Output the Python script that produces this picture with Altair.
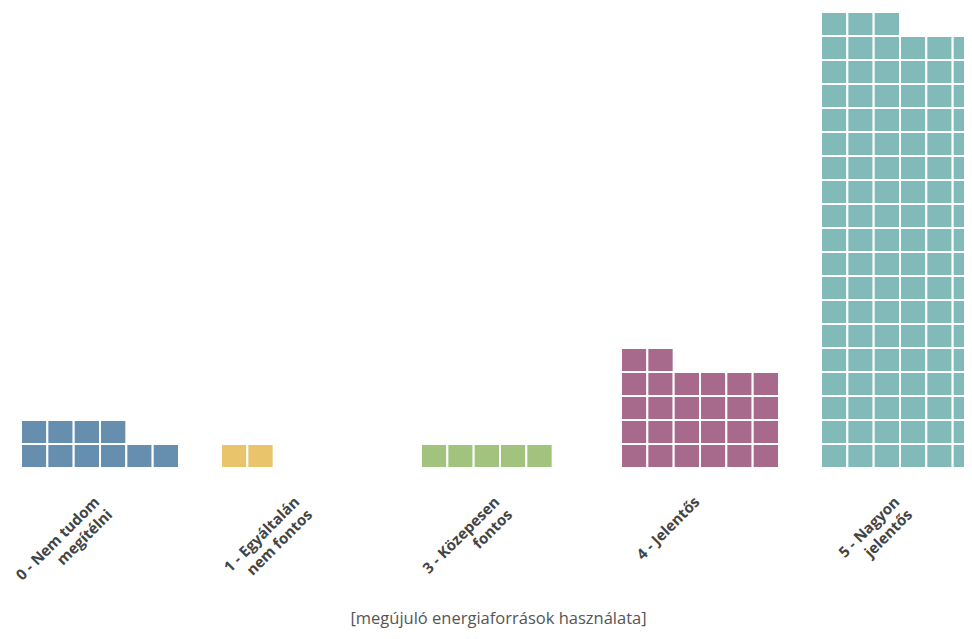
import altair as alt
import pandas as pd

categories = ["0 - Nem tudom\nmegítélni", "1 - Egyáltalán\nnem fontos", "3 - Közepesen\nfontos",
              "4 - Jelentős", "5 - Nagyon\njelentős"]
counts = [10, 2, 5, 26, 111]
colors = ["#668FAF", "#EAC46A", "#A1C37E", "#A76A8D", "#81BAB8"]
units_per_row = 6
axis_title = "[megújuló energiaforrások használata]"

rows = []
for cat, n in zip(categories, counts):
    for i in range(n):
        rows.append({"cat": cat, "row": i // units_per_row, "col": i % units_per_row})
df = pd.DataFrame(rows)

chart = alt.Chart(df).mark_rect(stroke="white", strokeWidth=2, clip=True).encode(
    x=alt.X("cat:N", sort=categories,
            scale=alt.Scale(range=[13, 971], paddingInner=0.21, paddingOuter=0),
            axis=alt.Axis(title=axis_title, domain=False, ticks=False, labelAngle=315,
                          labelAlign="right", labelBaseline="top", labelPadding=26, labelOffset=-8,
                          labelExpr="split(datum.label, '\\n')",
                          labelFont="Open Sans", labelFontSize=15, labelFontWeight="bold",
                          labelColor="#444444", labelLineHeight=18,
                          titleFont="Open Sans", titleFontSize=16.5, titleFontWeight="normal",
                          titleColor="#555555", titleX=490, titleY=150, titleBaseline="middle")),
    xOffset=alt.XOffset("col:O", scale=alt.Scale(paddingInner=0, paddingOuter=0)),
    y=alt.Y("row:O", sort="descending", scale=alt.Scale(paddingInner=0, paddingOuter=0), axis=None),
    color=alt.Color("cat:N", sort=categories, scale=alt.Scale(domain=categories, range=colors), legend=None),
).properties(
    width=956, height=456,
    autosize=alt.AutoSizeParams(type="none"),
    padding={"left": 0, "top": 4, "right": 0, "bottom": 163},
).configure_view(stroke=None)

chart.save("out.html", embed_options={"renderer": "svg", "actions": False})
